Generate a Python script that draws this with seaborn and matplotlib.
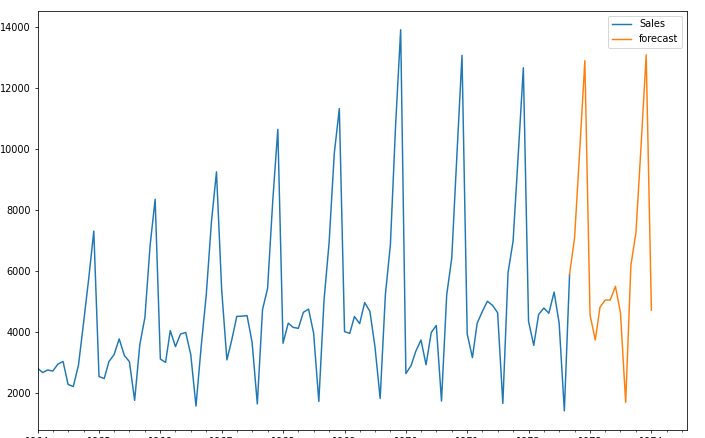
import numpy as np
import pandas as pd
import seaborn as sns
import matplotlib
matplotlib.use('Agg')
import matplotlib.pyplot as plt
import matplotlib.dates as mdates

# monthly champagne sales, 1964-01 .. 1972-09
sales = [2815, 2672, 2755, 2721, 2946, 3036, 2282, 2212, 2922, 4301, 5764, 7312,
         2541, 2475, 3031, 3266, 3776, 3230, 3028, 1759, 3595, 4474, 6838, 8357,
         3113, 3006, 4047, 3523, 3937, 3986, 3260, 1573, 3528, 5211, 7614, 9254,
         5375, 3088, 3718, 4514, 4520, 4539, 3663, 1643, 4739, 5428, 8314, 10651,
         3633, 4292, 4154, 4121, 4647, 4753, 3965, 1723, 5048, 6922, 9858, 11331,
         4016, 3957, 4510, 4276, 4968, 4677, 3523, 1821, 5222, 6872, 10803, 13916,
         2639, 2899, 3370, 3740, 2927, 3986, 4217, 1738, 5221, 6424, 9842, 13076,
         3934, 3162, 4286, 4676, 5010, 4874, 4633, 1659, 5951, 6981, 9851, 12670,
         4348, 3564, 4577, 4788, 4618, 5312, 4298, 1413, 5877]

# forecast, 1972-09 .. 1974-01
forecast = [5890, 7100, 10000, 12900, 4560, 3740, 4810, 5050, 5050, 5500, 4630,
            1690, 6190, 7260, 10150, 13090, 4720]

months = pd.date_range('1964-01-01', '1974-08-01', freq='MS')
df = pd.DataFrame({'Month': months})
df['Sales'] = pd.Series(sales + [np.nan] * (len(months) - len(sales)))
df['forecast'] = np.nan
start = len(sales) - 1
df.loc[start:start + len(forecast) - 1, 'forecast'] = forecast

fig = plt.figure(figsize=(705 / 70, 438 / 70), dpi=70)
ax = fig.add_axes([0.0532, 0.0183, 0.9213, 0.9573])

sns.lineplot(data=df, x='Month', y='Sales', label='Sales', color='C0', ax=ax)
sns.lineplot(data=df, x='Month', y='forecast', label='forecast', color='C1', ax=ax)

ax.set_xlim(months[0], months[-1])
ax.xaxis.set_major_locator(mdates.YearLocator())
ax.xaxis.set_major_formatter(mdates.DateFormatter('%Y'))
ax.xaxis.set_minor_locator(mdates.MonthLocator(bymonth=[1, 4, 7, 10]))
ax.set_xlabel('')
ax.set_ylabel('')
ax.legend(loc='upper right')

fig.savefig('out.png', dpi=70)
